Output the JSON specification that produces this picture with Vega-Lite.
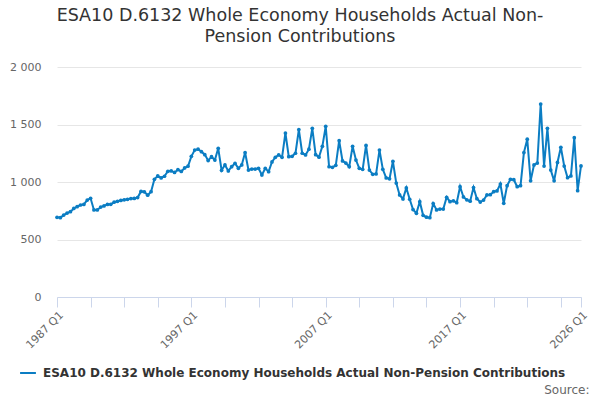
{
  "$schema": "https://vega.github.io/schema/vega-lite/v6.json",
  "width": 524,
  "height": 230,
  "autosize": {"type": "none"},
  "padding": {"left": 57, "top": 67, "right": 19, "bottom": 103},
  "background": "white",
  "config": {
    "font": "DejaVu Sans",
    "view": {"stroke": null}
  },
  "title": {
    "text": ["ESA10 D.6132 Whole Economy Households Actual Non-", "Pension Contributions"],
    "fontSize": 17.5,
    "fontWeight": "normal",
    "color": "#333333",
    "font": "DejaVu Sans",
    "anchor": "middle",
    "dx": -19,
    "offset": 16,
    "lineHeight": 21
  },
  "data": {
    "values": [
      {"q": "1987 Q1", "v": 693}, {"q": "1987 Q2", "v": 690}, {"q": "1987 Q3", "v": 712}, {"q": "1987 Q4", "v": 730},
      {"q": "1988 Q1", "v": 742}, {"q": "1988 Q2", "v": 770}, {"q": "1988 Q3", "v": 785}, {"q": "1988 Q4", "v": 800},
      {"q": "1989 Q1", "v": 805}, {"q": "1989 Q2", "v": 843}, {"q": "1989 Q3", "v": 858}, {"q": "1989 Q4", "v": 757},
      {"q": "1990 Q1", "v": 757}, {"q": "1990 Q2", "v": 782}, {"q": "1990 Q3", "v": 792}, {"q": "1990 Q4", "v": 805},
      {"q": "1991 Q1", "v": 806}, {"q": "1991 Q2", "v": 825}, {"q": "1991 Q3", "v": 832}, {"q": "1991 Q4", "v": 840},
      {"q": "1992 Q1", "v": 845}, {"q": "1992 Q2", "v": 849}, {"q": "1992 Q3", "v": 856}, {"q": "1992 Q4", "v": 857},
      {"q": "1993 Q1", "v": 865}, {"q": "1993 Q2", "v": 918}, {"q": "1993 Q3", "v": 915}, {"q": "1993 Q4", "v": 885},
      {"q": "1994 Q1", "v": 916}, {"q": "1994 Q2", "v": 1023}, {"q": "1994 Q3", "v": 1053}, {"q": "1994 Q4", "v": 1035},
      {"q": "1995 Q1", "v": 1050}, {"q": "1995 Q2", "v": 1093}, {"q": "1995 Q3", "v": 1096}, {"q": "1995 Q4", "v": 1083},
      {"q": "1996 Q1", "v": 1107}, {"q": "1996 Q2", "v": 1092}, {"q": "1996 Q3", "v": 1122}, {"q": "1996 Q4", "v": 1137},
      {"q": "1997 Q1", "v": 1223}, {"q": "1997 Q2", "v": 1278}, {"q": "1997 Q3", "v": 1285}, {"q": "1997 Q4", "v": 1264},
      {"q": "1998 Q1", "v": 1238}, {"q": "1998 Q2", "v": 1186}, {"q": "1998 Q3", "v": 1220}, {"q": "1998 Q4", "v": 1191},
      {"q": "1999 Q1", "v": 1293}, {"q": "1999 Q2", "v": 1102}, {"q": "1999 Q3", "v": 1148}, {"q": "1999 Q4", "v": 1096},
      {"q": "2000 Q1", "v": 1133}, {"q": "2000 Q2", "v": 1162}, {"q": "2000 Q3", "v": 1119}, {"q": "2000 Q4", "v": 1148},
      {"q": "2001 Q1", "v": 1256}, {"q": "2001 Q2", "v": 1104}, {"q": "2001 Q3", "v": 1113}, {"q": "2001 Q4", "v": 1113},
      {"q": "2002 Q1", "v": 1119}, {"q": "2002 Q2", "v": 1061}, {"q": "2002 Q3", "v": 1119}, {"q": "2002 Q4", "v": 1090},
      {"q": "2003 Q1", "v": 1175}, {"q": "2003 Q2", "v": 1215}, {"q": "2003 Q3", "v": 1235}, {"q": "2003 Q4", "v": 1215},
      {"q": "2004 Q1", "v": 1426}, {"q": "2004 Q2", "v": 1220}, {"q": "2004 Q3", "v": 1223}, {"q": "2004 Q4", "v": 1250},
      {"q": "2005 Q1", "v": 1456}, {"q": "2005 Q2", "v": 1250}, {"q": "2005 Q3", "v": 1235}, {"q": "2005 Q4", "v": 1285},
      {"q": "2006 Q1", "v": 1467}, {"q": "2006 Q2", "v": 1238}, {"q": "2006 Q3", "v": 1216}, {"q": "2006 Q4", "v": 1310},
      {"q": "2007 Q1", "v": 1484}, {"q": "2007 Q2", "v": 1133}, {"q": "2007 Q3", "v": 1128}, {"q": "2007 Q4", "v": 1145},
      {"q": "2008 Q1", "v": 1359}, {"q": "2008 Q2", "v": 1183}, {"q": "2008 Q3", "v": 1165}, {"q": "2008 Q4", "v": 1133},
      {"q": "2009 Q1", "v": 1310}, {"q": "2009 Q2", "v": 1191}, {"q": "2009 Q3", "v": 1119}, {"q": "2009 Q4", "v": 1110},
      {"q": "2010 Q1", "v": 1318}, {"q": "2010 Q2", "v": 1104}, {"q": "2010 Q3", "v": 1067}, {"q": "2010 Q4", "v": 1070},
      {"q": "2011 Q1", "v": 1278}, {"q": "2011 Q2", "v": 1110}, {"q": "2011 Q3", "v": 1035}, {"q": "2011 Q4", "v": 1028},
      {"q": "2012 Q1", "v": 1180}, {"q": "2012 Q2", "v": 991}, {"q": "2012 Q3", "v": 887}, {"q": "2012 Q4", "v": 853},
      {"q": "2013 Q1", "v": 948}, {"q": "2013 Q2", "v": 850}, {"q": "2013 Q3", "v": 760}, {"q": "2013 Q4", "v": 728},
      {"q": "2014 Q1", "v": 829}, {"q": "2014 Q2", "v": 710}, {"q": "2014 Q3", "v": 694}, {"q": "2014 Q4", "v": 690},
      {"q": "2015 Q1", "v": 812}, {"q": "2015 Q2", "v": 757}, {"q": "2015 Q3", "v": 765}, {"q": "2015 Q4", "v": 765},
      {"q": "2016 Q1", "v": 867}, {"q": "2016 Q2", "v": 829}, {"q": "2016 Q3", "v": 836}, {"q": "2016 Q4", "v": 820},
      {"q": "2017 Q1", "v": 959}, {"q": "2017 Q2", "v": 870}, {"q": "2017 Q3", "v": 845}, {"q": "2017 Q4", "v": 833},
      {"q": "2018 Q1", "v": 952}, {"q": "2018 Q2", "v": 855}, {"q": "2018 Q3", "v": 826}, {"q": "2018 Q4", "v": 843},
      {"q": "2019 Q1", "v": 887}, {"q": "2019 Q2", "v": 890}, {"q": "2019 Q3", "v": 916}, {"q": "2019 Q4", "v": 922},
      {"q": "2020 Q1", "v": 982}, {"q": "2020 Q2", "v": 815}, {"q": "2020 Q3", "v": 968}, {"q": "2020 Q4", "v": 1023},
      {"q": "2021 Q1", "v": 1020}, {"q": "2021 Q2", "v": 959}, {"q": "2021 Q3", "v": 968}, {"q": "2021 Q4", "v": 1256},
      {"q": "2022 Q1", "v": 1372}, {"q": "2022 Q2", "v": 1010}, {"q": "2022 Q3", "v": 1148}, {"q": "2022 Q4", "v": 1165},
      {"q": "2023 Q1", "v": 1678}, {"q": "2023 Q2", "v": 1139}, {"q": "2023 Q3", "v": 1467}, {"q": "2023 Q4", "v": 1104},
      {"q": "2024 Q1", "v": 1010}, {"q": "2024 Q2", "v": 1170}, {"q": "2024 Q3", "v": 1302}, {"q": "2024 Q4", "v": 1139},
      {"q": "2025 Q1", "v": 1037}, {"q": "2025 Q2", "v": 1053}, {"q": "2025 Q3", "v": 1385}, {"q": "2025 Q4", "v": 924},
      {"q": "2026 Q1", "v": 1140}
    ]
  },
  "mark": {"type": "line", "strokeWidth": 2, "point": {"filled": true, "size": 14}},
  "encoding": {
    "x": {
      "field": "q",
      "type": "ordinal",
      "scale": {"type": "point", "padding": 0},
      "axis": {
        "values": ["1987 Q1", "1989 Q3", "1992 Q1", "1994 Q3", "1997 Q1", "1999 Q3", "2002 Q1", "2004 Q3", "2007 Q1", "2009 Q3", "2012 Q1", "2014 Q3", "2017 Q1", "2019 Q3", "2022 Q1", "2024 Q3", "2026 Q1"],
        "labelExpr": "indexof(['1987 Q1','1997 Q1','2007 Q1','2017 Q1','2026 Q1'], datum.value) >= 0 ? datum.value : ''",
        "labelAngle": -45,
        "labelAlign": "right",
        "labelBaseline": "top",
        "labelFontSize": 11,
        "labelColor": "#666666",
        "labelPadding": 2,
        "tickColor": "#ccd6eb",
        "tickSize": 10,
        "domainColor": "#ccd6eb",
        "grid": false,
        "labelOverlap": false,
        "title": "Source:",
        "titleX": 532,
        "titleY": 99,
        "titleAlign": "right",
        "titleAnchor": null,
        "titleBaseline": "bottom",
        "titleFontSize": 12,
        "titleFontWeight": "normal",
        "titleColor": "#666666"
      }
    },
    "y": {
      "field": "v",
      "type": "quantitative",
      "scale": {"domain": [0, 2000]},
      "axis": {
        "values": [0, 500, 1000, 1500, 2000],
        "labelExpr": "replace(format(datum.value, ','), ',', ' ')",
        "title": null,
        "domain": false,
        "ticks": false,
        "tickSize": 0,
        "labelPadding": 16,
        "labelFontSize": 11,
        "labelColor": "#666666",
        "gridColor": "#e6e6e6"
      }
    },
    "color": {
      "datum": "ESA10 D.6132 Whole Economy Households Actual Non-Pension Contributions",
      "type": "nominal",
      "scale": {"range": ["#0b7dc3"]},
      "legend": {
        "title": null,
        "orient": "none",
        "legendX": -38,
        "legendY": 297,
        "symbolType": "stroke",
        "symbolStrokeWidth": 2,
        "symbolSize": 250,
        "labelFontSize": 12,
        "labelFontWeight": "bold",
        "labelColor": "#333333",
        "labelLimit": 0,
        "labelOffset": 6
      }
    }
  }
}
